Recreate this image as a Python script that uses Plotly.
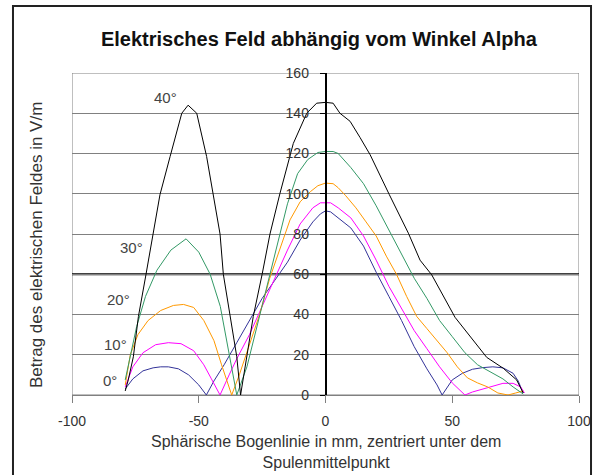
import plotly.graph_objects as go

# ---------------- data ----------------
angle_labels = ["0°", "10°", "20°", "30°", "40°"]

x_0 = [-79, -76, -72, -68, -65, -62, -58, -54, -50, -47, -44, -40, -35, -30, -25, -20, -15, -10, -5, -2, 0, 2, 5,
       10, 15, 20, 25, 30, 35, 40, 44, 46, 50, 54, 58, 62, 66, 70, 74, 76, 78]
y_0 = [3, 8, 12, 13.5, 14, 14, 13, 10, 5, 0, 7, 15, 26, 37, 48, 57, 66, 77, 86, 90, 91.5, 91, 88,
       83, 74, 61, 49, 37, 24, 13, 5, 0, 7.5, 10.8, 12.8, 13.6, 14, 13.5, 10.8, 7, 1]

x_10 = [-79, -76, -72, -67, -62, -57, -52, -48, -45, -41.6, -38, -35, -30, -25, -20, -15, -10, -5, -2, 0, 2, 5,
        10, 15, 20, 25, 30, 35, 40, 45, 50, 55, 58, 62, 66, 70, 74, 77, 78.5]
y_10 = [4, 14, 21, 25, 26, 25.5, 22, 15, 8, 0, 10, 18, 30, 44, 58, 72, 85, 93, 95.5, 95.5, 95.5, 93,
        88, 79, 67, 54, 43, 32, 23, 14, 6, 0, 1.5, 3, 4.5, 5.8, 5.8, 4, 1]

x_20 = [-79, -77, -74, -70, -65, -60, -56, -52, -48, -44, -41, -38.5, -37, -34, -30, -26, -22, -18, -14, -10, -6, -3,
        0, 3, 5, 8, 12, 16, 20, 24, 28, 32, 36, 40, 44, 48, 52, 56, 60, 64, 68, 72, 75, 78]
y_20 = [5, 20, 30, 37, 42, 44.5, 45, 43.5, 37, 27, 15, 6, 0, 10, 25, 40, 58, 73, 87, 96, 101, 104,
        105.3, 105, 103, 99, 93, 86, 79, 69, 60, 49, 39, 33, 27, 21, 14, 8.5, 6, 4, 1, 0, 1, 2]

x_30 = [-79, -77, -74.5, -71, -66.5, -61, -55, -50, -45.5, -41.5, -39, -36.5, -35, -31, -27, -23, -19, -15, -11, -7, -3,
        0, 3, 5, 10, 15, 20, 25, 30, 35, 40, 45, 50, 55, 60, 65, 70, 74, 78]
y_30 = [7.5, 19, 34, 49, 62, 72, 77.6, 71, 60, 44, 27, 11, 0, 14, 34, 55, 75, 95, 110, 117, 120.5,
        121, 121, 120, 113, 105, 94, 82, 70, 58, 48, 37, 29, 21, 15, 11.5, 8, 4, 0.5]

x_40 = [-79, -77.8, -75.8, -73.8, -70.8, -67.9, -65.3, -61.3, -56.7, -54.2, -50.8, -46.9, -44.3, -41.6, -40.3, -37.7,
        -35, -33.5, -31, -28.5, -25, -21.9, -18, -12.7, -7.4, -3.5, 0, 3, 5.7, 9.7, 13.6, 17.6, 25.2, 32.7, 37.3,
        41.9, 51.1, 57, 63.6, 70.1, 75.4, 78]
y_40 = [2, 7.5, 19, 39, 60, 80, 99.5, 118.5, 140, 144, 140, 118.5, 99.5, 80, 60, 39,
        19, 0, 19, 39, 60, 80, 100, 125, 140, 145, 145.4, 145, 140, 136, 128, 119.4, 99.5, 80.4, 67,
        59.7, 38.6, 29, 18.7, 13.3, 7.5, 1]

series_x = [x_0, x_10, x_20, x_30, x_40]
series_y = [y_0, y_10, y_20, y_30, y_40]
colors = ["#333399", "#FF00FF", "#FF9900", "#339966", "#000000"]

x_ticks = [-100, -50, 0, 50, 100]
y_ticks = [0, 20, 40, 60, 80, 100, 120, 140, 160]

# label positions (layout)
label_pos = [(-85, 7), (-83, 25), (-81.5, 47.3), (-76.7, 73.1), (-63.3, 147.8)]

FONT = "Liberation Sans, Arial, sans-serif"

fig = go.Figure()
for xs, ys, c, name in zip(series_x, series_y, colors, angle_labels):
    fig.add_trace(go.Scatter(x=xs, y=ys, mode="lines", name=name,
                             line=dict(color=c, width=1)))

annotations = []
for (lx, ly), name in zip(label_pos, angle_labels):
    annotations.append(dict(x=lx, y=ly, xref="x", yref="y", text=name, showarrow=False,
                            font=dict(family=FONT, size=15, color="#444444")))

annotations.append(dict(x=-0.069, y=0.466, xref="paper", yref="paper", textangle=-90,
                        xanchor="center", yanchor="middle",
                        text="Betrag des elektrischen Feldes in V/m", showarrow=False,
                        font=dict(family=FONT, size=17, color="#333333")))
annotations.append(dict(x=0.5, y=-0.177, xref="paper", yref="paper", yanchor="middle",
                        text="Sphärische Bogenlinie in mm, zentriert unter dem<br>Spulenmittelpunkt",
                        showarrow=False, align="center",
                        font=dict(family=FONT, size=16, color="#333333")))

shapes = [
    # plot area frame
    dict(type="rect", xref="x", yref="y", x0=-100, x1=100, y0=0, y1=160,
         line=dict(color="#808080", width=1), layer="below"),
    # dark line at 60
    dict(type="line", xref="x", yref="y", x0=-100, x1=100, y0=60, y1=60,
         line=dict(color="#000000", width=2), layer="below"),
    # outer chart border
    dict(type="rect", xref="paper", yref="paper", x0=-0.1164, x1=1.0237, y0=-0.35, y1=1.208,
         line=dict(color="#222222", width=2)),
]

fig.update_layout(
    width=594, height=475, autosize=False,
    margin=dict(l=72, r=15, t=73, b=80),
    paper_bgcolor="white", plot_bgcolor="white",
    showlegend=False,
    title=dict(text="<b>Elektrisches Feld abhängig vom Winkel Alpha</b>",
               x=0.487, xref="paper", xanchor="center",
               y=1 - 39 / 475, yref="container", yanchor="middle",
               font=dict(family=FONT, size=20, color="#111111")),
    font=dict(family=FONT, size=14, color="#333333"),
    annotations=annotations,
    shapes=shapes,
    xaxis=dict(range=[-100, 100], tickvals=x_ticks, ticktext=[str(v) for v in x_ticks],
               showgrid=False, zeroline=False, showline=True, linecolor="#808080",
               ticks="outside", ticklen=7, tickcolor="#808080", ticklabelstandoff=6,
               automargin=False,
               tickfont=dict(family=FONT, size=14, color="#333333")),
    yaxis=dict(range=[0, 160], tickvals=y_ticks, anchor="free", position=0.5,
               showgrid=True, gridcolor="#808080", gridwidth=1,
               zeroline=False, showline=True, linecolor="#000000", linewidth=1.5,
               ticks="outside", ticklen=5, tickcolor="#000000", ticklabelstandoff=8,
               automargin=False,
               tickfont=dict(family=FONT, size=14, color="#333333")),
)

fig.write_html("out.html",
               config={"displayModeBar": False, "responsive": False},
               post_script="document.body.style.margin='0';document.body.style.overflow='hidden';")
